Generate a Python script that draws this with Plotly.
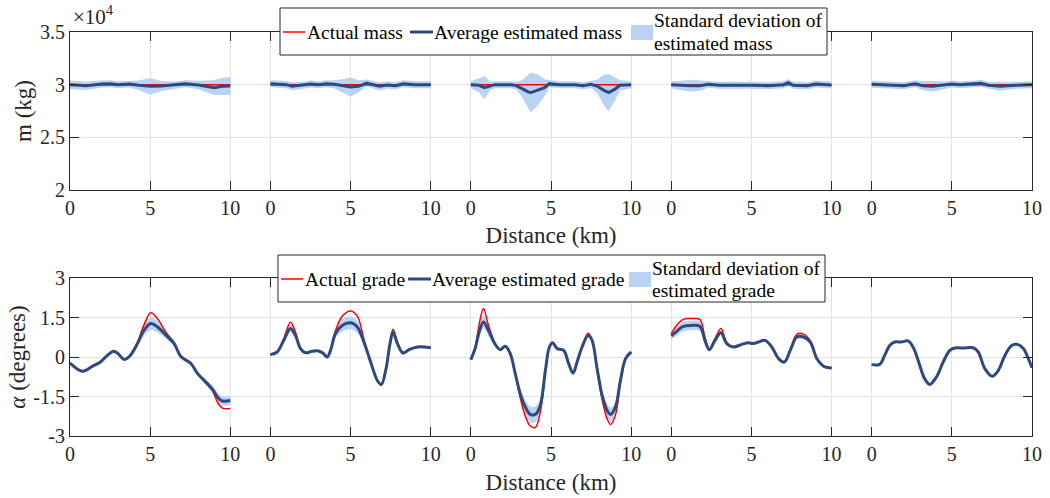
import plotly.graph_objects as go

# ---------------------------------------------------------------------------
# Five 10 km routes. Distance samples in km, mass in kg, grade in degrees.
# ---------------------------------------------------------------------------
actual_mass = [30000, 30000, 30000, 30000, 30000]

mass_km = [
    [0, 1, 2, 2.5, 3, 3.7, 4.3, 5, 5.7, 6.5, 7.2, 8, 9, 9.5, 10],
    [0, 1, 1.35, 2, 2.5, 3, 3.5, 4, 4.5, 5, 5.5, 6, 6.3, 6.8, 7.3, 7.8, 8.3, 9, 10],
    [0, 0.5, 0.85, 1.2, 1.5, 2.5, 2.8, 3.2, 3.6, 3.75, 4.2, 4.6, 4.9, 5.5, 6.5, 7,
     7.5, 7.9, 8.3, 8.6, 9.0, 9.3, 10],
    [0, 0.5, 1.2, 1.8, 2.3, 3, 4, 5, 6, 7, 7.3, 7.6, 8.5, 9, 10],
    [0, 1, 2, 2.7, 3.2, 3.8, 4.5, 5, 5.5, 6.5, 6.8, 7.3, 8, 9, 10],
]
mass_est = [
    [30000, 29905, 30063, 30095, 30000, 30063, 29937, 29842, 29874, 29968, 30095,
     29968, 29716, 29842, 29874],
    [30095, 30000, 29842, 29937, 30063, 30000, 30095, 30032, 29874, 29779, 29842,
     30158, 30032, 29842, 29968, 29905, 30095, 30000, 30000],
    [30000, 29937, 29716, 29874, 30000, 30000, 29937, 29621, 29290, 29250, 29526,
     29716, 30095, 30000, 30000, 29905, 30032, 29842, 29463, 29260, 29589, 29937,
     30000],
    [30000, 29937, 29905, 29905, 30032, 29937, 29968, 29937, 29905, 30000, 30190,
     29937, 29905, 30063, 29968],
    [30032, 29968, 29905, 30095, 29905, 29842, 29937, 30063, 30000, 30063, 30126,
     29937, 29842, 29937, 30000],
]
mass_std = [
    [400, 400, 330, 330, 320, 330, 450, 800, 480, 340, 330, 400, 700, 820, 850],
    [330, 340, 390, 340, 330, 330, 330, 390, 630, 900, 570, 340, 340, 390, 340,
     330, 330, 330, 330],
    [330, 650, 1100, 400, 330, 330, 340, 800, 1600, 1900, 1450, 800, 340, 330, 330,
     330, 340, 650, 1450, 1750, 1100, 480, 330],
    [330, 400, 570, 480, 330, 330, 330, 330, 330, 330, 330, 330, 330, 330, 330],
    [330, 330, 330, 330, 440, 500, 360, 330, 330, 330, 330, 330, 420, 330, 330],
]

grade_km = [
    [0, 0.77, 1.4, 1.9, 2.33, 2.7, 2.96, 3.38, 3.73, 4.2, 4.6, 5.04, 5.46, 6.0, 6.5,
     6.9, 7.54, 7.96, 8.4, 8.9, 9.2, 9.5, 10],
    [0, 0.42, 0.83, 1.25, 1.56, 1.875, 2.19, 2.6, 3.0, 3.27, 3.54, 3.75, 4.06, 4.48,
     5.0, 5.42, 5.83, 6.25, 6.67, 6.92, 7.19, 7.46, 7.65, 7.92, 8.27, 8.65, 9.17, 10],
    [0, 0.27, 0.52, 0.79, 1.1, 1.52, 1.83, 2.15, 2.46, 2.77, 3.08, 3.4, 3.71, 4.02,
     4.33, 4.65, 4.9, 5.1, 5.375, 5.79, 6.1, 6.375, 6.625, 6.94, 7.31, 7.56, 7.875,
     8.19, 8.5, 8.71, 9.02, 9.33, 9.65, 10],
    [0, 0.33, 0.75, 1.27, 1.79, 2.1, 2.375, 2.73, 3.1, 3.46, 3.875, 4.4, 4.81, 5.125,
     5.44, 5.85, 6.27, 6.69, 7.06, 7.42, 7.83, 8.25, 8.67, 9.08, 9.5, 10],
    [0, 0.5, 0.81, 1.125, 1.44, 1.85, 2.27, 2.58, 2.9, 3.3, 3.625, 4.04, 4.46, 4.875,
     5.19, 5.71, 6.33, 6.65, 7.06, 7.52, 7.9, 8.31, 8.73, 9.1, 9.46, 9.77, 10],
]
grade_actual = [
    [-0.23, -0.54, -0.35, -0.19, 0.06, 0.22, 0.15, -0.09, 0.04, 0.55, 1.2, 1.68,
     1.45, 0.92, 0.55, 0.03, -0.25, -0.63, -0.93, -1.3, -1.72, -1.94, -1.96],
    [0.09, 0.19, 0.7, 1.32, 0.95, 0.34, 0.16, 0.22, 0.23, 0.15, 0.0, 0.27, 1.0, 1.55,
     1.75, 1.55, 0.68, -0.19, -0.92, -1.06, -0.51, 0.55, 1.05, 0.55, 0.15, 0.28,
     0.38, 0.35],
    [-0.1, 0.35, 1.25, 1.84, 1.2, 0.5, 0.28, 0.41, 0.13, -0.66, -1.55, -2.25, -2.62,
     -2.68, -2.1, -0.58, 0.38, 0.54, 0.32, 0.25, -0.25, -0.61, -0.19, 0.4, 0.9, 0.66,
     -0.48, -1.62, -2.35, -2.56, -2.2, -0.98, -0.08, 0.19],
    [0.89, 1.2, 1.43, 1.46, 1.42, 0.75, 0.3, 0.7, 1.08, 0.55, 0.38, 0.48, 0.54, 0.51,
     0.57, 0.65, 0.38, -0.06, -0.19, 0.27, 0.86, 0.87, 0.62, -0.06, -0.35, -0.42],
    [-0.29, -0.28, 0.06, 0.44, 0.57, 0.57, 0.61, 0.38, -0.13, -0.82, -1.04, -0.76,
     -0.19, 0.25, 0.34, 0.34, 0.35, 0.19, -0.44, -0.73, -0.51, 0.06, 0.44, 0.48,
     0.32, -0.06, -0.41],
]
grade_est = [
    [-0.23, -0.54, -0.35, -0.19, 0.06, 0.22, 0.15, -0.09, 0.04, 0.5, 1.0, 1.27, 1.14,
     0.82, 0.5, 0.03, -0.25, -0.63, -0.91, -1.24, -1.52, -1.67, -1.65],
    [0.09, 0.19, 0.63, 1.08, 0.82, 0.32, 0.16, 0.22, 0.23, 0.15, 0.0, 0.25, 0.89, 1.2,
     1.3, 1.14, 0.57, -0.19, -0.89, -1.04, -0.51, 0.51, 0.95, 0.51, 0.15, 0.28, 0.38,
     0.35],
    [-0.1, 0.32, 0.95, 1.33, 1.01, 0.48, 0.28, 0.41, 0.13, -0.63, -1.39, -1.9, -2.18,
     -2.18, -1.84, -0.51, 0.38, 0.54, 0.32, 0.25, -0.25, -0.61, -0.19, 0.38, 0.82,
     0.63, -0.44, -1.46, -2.03, -2.18, -1.9, -0.89, -0.06, 0.19],
    [0.8, 0.97, 1.16, 1.2, 1.16, 0.63, 0.28, 0.63, 0.92, 0.51, 0.38, 0.48, 0.54, 0.51,
     0.57, 0.63, 0.38, -0.06, -0.19, 0.25, 0.76, 0.76, 0.57, -0.06, -0.35, -0.42],
    [-0.29, -0.28, 0.06, 0.44, 0.57, 0.57, 0.61, 0.38, -0.13, -0.82, -1.04, -0.76,
     -0.19, 0.25, 0.34, 0.34, 0.35, 0.19, -0.44, -0.73, -0.51, 0.06, 0.44, 0.48, 0.32,
     -0.06, -0.41],
]
grade_std = [
    [0.06, 0.06, 0.06, 0.06, 0.06, 0.06, 0.06, 0.06, 0.06, 0.1, 0.2, 0.25, 0.22,
     0.13, 0.08, 0.06, 0.06, 0.07, 0.1, 0.14, 0.17, 0.17, 0.17],
    [0.05, 0.05, 0.1, 0.15, 0.12, 0.06, 0.05, 0.05, 0.05, 0.05, 0.05, 0.06, 0.15,
     0.24, 0.25, 0.24, 0.12, 0.06, 0.06, 0.06, 0.06, 0.06, 0.08, 0.06, 0.05, 0.05,
     0.05, 0.05],
    [0.05, 0.1, 0.2, 0.25, 0.2, 0.08, 0.05, 0.05, 0.05, 0.08, 0.18, 0.26, 0.3,
     0.3, 0.24, 0.08, 0.05, 0.05, 0.05, 0.05, 0.05, 0.05, 0.05, 0.05, 0.08, 0.06,
     0.06, 0.18, 0.26, 0.26, 0.2, 0.1, 0.05, 0.05],
    [0.14, 0.16, 0.18, 0.18, 0.18, 0.12, 0.06, 0.06, 0.08, 0.05, 0.05, 0.05, 0.05,
     0.05, 0.05, 0.05, 0.05, 0.05, 0.05, 0.05, 0.08, 0.08, 0.06, 0.05, 0.05, 0.05],
    [0.04] * 27,
]

route_ticks = [0, 5, 10]
mass_ticks = [20000, 25000, 30000, 35000]
mass_tick_text = ["2", "2.5", "3", "3.5"]
grade_ticks = [-3, -1.5, 0, 1.5, 3]
grade_tick_text = ["-3", "-1.5", "0", "1.5", "3"]

mass_labels = ["Actual mass", "Average estimated mass",
               "Standard deviation of", "estimated mass"]
grade_labels = ["Actual grade", "Average estimated grade",
                "Standard deviation of", "estimated grade"]

# ---------------------------------------------------------------------------
# Styling
# ---------------------------------------------------------------------------
FONT = "Liberation Serif, Times New Roman, DejaVu Serif, serif"
RED = "#FF0000"
BLUE = "#2E4A7D"
BAND = "#B8D3F3"
AXIS = "#262626"
GRID = "#E3E3E3"
ROUTE_LEN = 10.0
ROUTE_STEP = 12.5  # each route panel is shifted along the shared axis

W, H = 1050, 498
ML, MR, MT, MB = 70, 18, 32, 62
PW, PH = W - ML - MR, H - MT - MB


def px(x):
    """Page pixel column -> paper x."""
    return (x - ML) / PW


def py(y):
    """Page pixel row -> paper y."""
    return (H - MB - y) / PH


def shift(values, i):
    return [ROUTE_STEP * i + v for v in values]


fig = go.Figure()


def add_row(xs, est, std, act, xa, ya, spline):
    shape = "spline" if spline else "linear"
    for i in range(5):
        x = shift(xs[i], i)
        lower = [m - s for m, s in zip(est[i], std[i])]
        upper = [m + s for m, s in zip(est[i], std[i])]
        fig.add_trace(go.Scatter(
            x=x, y=lower, mode="lines", line=dict(width=0, color=BAND, shape=shape),
            xaxis=xa, yaxis=ya, showlegend=False, hoverinfo="skip"))
        fig.add_trace(go.Scatter(
            x=x, y=upper, mode="lines", fill="tonexty", fillcolor=BAND,
            line=dict(width=0, color=BAND, shape=shape),
            xaxis=xa, yaxis=ya, showlegend=False))
    for i in range(5):
        x = shift(xs[i], i)
        a = act[i] if isinstance(act[i], list) else [act[i]] * len(x)
        fig.add_trace(go.Scatter(
            x=x, y=a, mode="lines", line=dict(width=1.5, color=RED, shape=shape),
            xaxis=xa, yaxis=ya, showlegend=False))
    for i in range(5):
        x = shift(xs[i], i)
        fig.add_trace(go.Scatter(
            x=x, y=est[i], mode="lines", line=dict(width=3, color=BLUE, shape=shape),
            xaxis=xa, yaxis=ya, showlegend=False))


add_row(mass_km, mass_est, mass_std, actual_mass, "x", "y", spline=False)
add_row(grade_km, grade_est, grade_std, grade_actual, "x2", "y2", spline=True)

# ---------------------------------------------------------------------------
# Boxed key above each panel row
# ---------------------------------------------------------------------------
shapes = []
annotations = []
KEY_FONT = dict(family=FONT, size=19.5, color="black")


def add_key(left, top, labels):
    right, bottom = left + 547, top + 47
    mid = top + 24
    shapes.append(dict(type="rect", xref="paper", yref="paper",
                       x0=px(left), x1=px(right), y0=py(bottom), y1=py(top),
                       fillcolor="white", line=dict(color=AXIS, width=1),
                       layer="above"))
    shapes.append(dict(type="line", xref="paper", yref="paper",
                       x0=px(left + 3), x1=px(left + 25), y0=py(mid), y1=py(mid),
                       line=dict(color=RED, width=1.5), layer="above"))
    shapes.append(dict(type="line", xref="paper", yref="paper",
                       x0=px(left + 130), x1=px(left + 153), y0=py(mid), y1=py(mid),
                       line=dict(color=BLUE, width=3), layer="above"))
    shapes.append(dict(type="rect", xref="paper", yref="paper",
                       x0=px(left + 351), x1=px(left + 373),
                       y0=py(mid + 8), y1=py(mid - 7),
                       fillcolor=BAND, line=dict(width=0), layer="above"))
    text_items = [
        (left + 25, mid, labels[0]),
        (left + 152, mid, labels[1]),
        (left + 372, mid - 11, labels[2]),
        (left + 372, mid + 11, labels[3]),
    ]
    for x, y, t in text_items:
        annotations.append(dict(
            text=t, xref="paper", yref="paper", x=px(x), y=py(y),
            xanchor="left", yanchor="middle", showarrow=False, font=KEY_FONT))


add_key(280, 8, mass_labels)
add_key(278, 255, grade_labels)

annotations.append(dict(
    text="×10<sup>4</sup>", xref="paper", yref="paper", x=px(71), y=py(31),
    xanchor="left", yanchor="bottom", showarrow=False,
    font=dict(family=FONT, size=21, color=AXIS)))

tickvals = [ROUTE_STEP * i + t for i in range(5) for t in route_ticks]
ticktext = [str(t) for i in range(5) for t in route_ticks]
x_end = ROUTE_STEP * 4 + ROUTE_LEN

xcommon = dict(
    range=[0, x_end], tickvals=tickvals, ticktext=ticktext,
    ticks="inside", ticklen=9, tickcolor=AXIS, tickwidth=1,
    showline=True, linecolor=AXIS, linewidth=1, mirror="ticks",
    showgrid=True, gridcolor=GRID, gridwidth=1, zeroline=False,
    tickfont=dict(family=FONT, size=20, color=AXIS), automargin=False,
)
ycommon = dict(
    ticks="inside", ticklen=9, tickcolor=AXIS, tickwidth=1,
    showline=True, linecolor=AXIS, linewidth=1, mirror="ticks",
    showgrid=True, gridcolor=GRID, gridwidth=1, zeroline=False,
    tickfont=dict(family=FONT, size=20, color=AXIS), automargin=False,
)
title_font = dict(family=FONT, size=23, color=AXIS)

fig.update_layout(
    width=W, height=H,
    margin=dict(l=ML, r=MR, t=MT, b=MB, autoexpand=False),
    paper_bgcolor="white", plot_bgcolor="white",
    font=dict(family=FONT, color=AXIS),
    showlegend=False,
    xaxis=dict(domain=[0, 1], anchor="y",
               title=dict(text="Distance (km)", font=title_font, standoff=8),
               **xcommon),
    yaxis=dict(domain=[py(190), 1], anchor="x", range=[20000, 35000],
               tickvals=mass_ticks, ticktext=mass_tick_text,
               title=dict(text="m (kg)", font=title_font, standoff=1),
               **ycommon),
    xaxis2=dict(domain=[0, 1], anchor="y2",
                title=dict(text="Distance (km)", font=title_font, standoff=9),
                **xcommon),
    yaxis2=dict(domain=[0, py(278)], anchor="x2", range=[-3, 3],
                tickvals=grade_ticks, ticktext=grade_tick_text,
                title=dict(text="<i>α</i> (degrees)", font=title_font, standoff=1),
                **ycommon),
    shapes=shapes,
    annotations=annotations,
)

fig.write_html("out.html")
